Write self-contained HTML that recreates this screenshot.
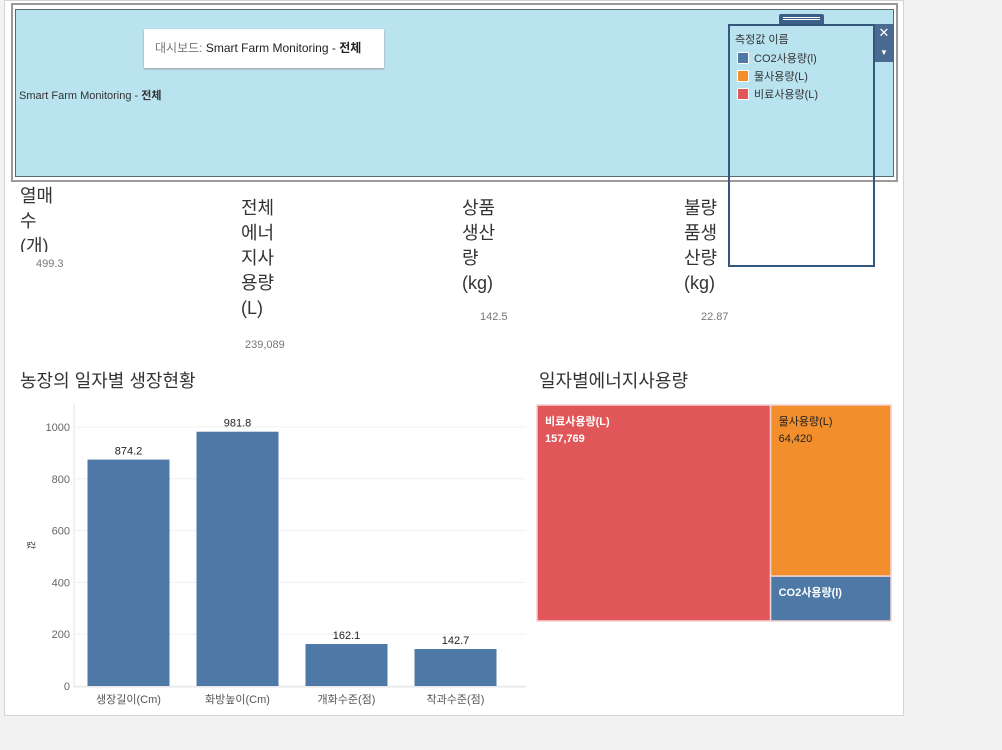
<!DOCTYPE html>
<html><head><meta charset="utf-8">
<style>
*{margin:0;padding:0;box-sizing:border-box}
body{width:1002px;height:750px;background:#f2f2f2;position:relative;overflow:hidden;font-family:"Liberation Sans","Noto Sans CJK KR",sans-serif}
.abs{position:absolute}
.kpi{position:absolute;font-size:18px;line-height:25px;color:#333;white-space:nowrap}
.kv{position:absolute;font-size:11px;color:#777}
</style></head><body>
<div class="abs" style="left:4px;top:0;width:900px;height:716px;background:#fff;border:1px solid #d4d4d4"></div>
<div class="abs" style="left:11px;top:3px;width:887px;height:179px;border:2px solid #9a9a9a;background:#fff"></div>
<div class="abs" style="left:15px;top:9px;width:879px;height:168px;background:#bae3f0;border:1px solid #5a6a72"></div>
<div class="abs" style="left:144px;top:29px;width:240px;height:39px;background:#fff;box-shadow:0 1px 2px #999;font-size:12px;line-height:39px;padding-left:11px;color:#222"><span style="color:#777">대시보드:</span> Smart Farm Monitoring - <b>전체</b></div>
<div class="abs" style="left:19px;top:87px;font-size:11px;color:#333">Smart Farm Monitoring - <b>전체</b></div>
<div class="abs" style="left:779px;top:14px;width:45px;height:11px;background:#3d5f87;border-radius:2px 2px 0 0"><div style="margin:3px 4px 0;height:3px;border-top:1px solid #fff;border-bottom:1px solid #fff"></div></div>
<div class="abs" style="left:728px;top:24px;width:147px;height:243px;border:2px solid #34577f"></div>
<div class="abs" style="left:875px;top:24px;width:18px;height:38px;background:#4a6a92;color:#fff;font-size:13px;text-align:center;line-height:18px">✕<br><span style="font-size:8px">▼</span></div>
<div class="abs" style="left:735px;top:31px;font-size:11px;color:#333">측정값 이름</div>
<div class="abs" style="left:737px;top:50px;font-size:11px;color:#333"><span style="display:inline-block;width:12px;height:12px;background:#4e79a7;border:1px solid #fff;vertical-align:-2px;margin-right:5px"></span>CO2사용량(l)</div>
<div class="abs" style="left:737px;top:68px;font-size:11px;color:#333"><span style="display:inline-block;width:12px;height:12px;background:#f28e2b;border:1px solid #fff;vertical-align:-2px;margin-right:5px"></span>물사용량(L)</div>
<div class="abs" style="left:737px;top:86px;font-size:11px;color:#333"><span style="display:inline-block;width:12px;height:12px;background:#e15759;border:1px solid #fff;vertical-align:-2px;margin-right:5px"></span>비료사용량(L)</div>

<div class="kpi" style="left:20px;top:184px;height:68px;overflow:hidden">열매<br>수<br>(개)</div>
<div class="kv" style="left:36px;top:258px">499.3</div>
<div class="kpi" style="left:241px;top:196px">전체<br>에너<br>지사<br>용량<br>(L)</div>
<div class="kv" style="left:245px;top:339px">239,089</div>
<div class="kpi" style="left:462px;top:196px">상품<br>생산<br>량<br>(kg)</div>
<div class="kv" style="left:480px;top:311px">142.5</div>
<div class="kpi" style="left:684px;top:196px">불량<br>품생<br>산량<br>(kg)</div>
<div class="kv" style="left:701px;top:311px">22.87</div>

<div class="abs" style="left:20px;top:367px;font-size:18px;color:#333">농장의 일자별 생장현황</div>
<div class="abs" style="left:539px;top:367px;font-size:18px;color:#333">일자별에너지사용량</div>

<svg class="abs" style="left:0;top:0" width="1002" height="750">
<g id="bars"></g><g id="tree"></g>
</svg>
<script>
const categories=["생장길이(Cm)","화방높이(Cm)","개화수준(점)","착과수준(점)"];
const values=[874.2,981.8,162.1,142.7];
const ticks=[0,200,400,600,800,1000];
const treeNames=["비료사용량(L)","물사용량(L)","CO2사용량(l)"];
const treeValues=[157769,64420,16900];
const NS="http://www.w3.org/2000/svg";
function mk(p,t,a,txt){const e=document.createElementNS(NS,t);for(const k in a)e.setAttribute(k,a[k]);if(txt!=null)e.textContent=txt;p.appendChild(e);return e;}
const g=document.getElementById('bars');
const x0=74,x1=526,y0=686,yTop=403,ppu=0.259;
const y=v=>y0-v*ppu;
const band=(x1-x0-16)/categories.length;
const xc=i=>x0+band*(i+0.5);
mk(g,'line',{x1:x0,y1:yTop,x2:x0,y2:y0,stroke:'#e6e6e6'});
ticks.forEach(t=>{
 const gl=mk(g,'line',{x1:x0,x2:x1,y1:y(t),y2:y(t),stroke:'#f0f0f0'});
 
 
 const tl=mk(g,'text',{x:70,y:y(t)+4,'text-anchor':'end','font-size':11,fill:'#666','font-family':'Liberation Sans'},t);
 
 
});
const yt=mk(g,'text',{x:28,y:545,'font-size':9,fill:'#333',transform:'rotate(90 28 545)','text-anchor':'middle'},'값');


mk(g,'line',{x1:x0,x2:x1,y1:y0+1,y2:y0+1,stroke:'#e6e6e6'});
values.forEach((v,i)=>{
 const b=mk(g,'rect',{x:xc(i)-41,y:y(v),width:82,height:y0-y(v),fill:'#4e79a7'});
 
 
 const l=mk(g,'text',{x:xc(i),y:y(v)-5,'text-anchor':'middle','font-size':11,fill:'#222'},v.toFixed(1));
 
 
 const c=mk(g,'text',{x:xc(i),y:703,'text-anchor':'middle','font-size':11,fill:'#555'},categories[i]);
 
 
});
const t=document.getElementById('tree');
const TX=537,TY=405,TW=354,TH=216;
const total=treeValues.reduce((a,b)=>a+b,0);
const w0=TW*treeValues[0]/total;
const rest=treeValues[1]+treeValues[2];
const h1=TH*treeValues[1]/rest;
const rects=[[TX,TY,w0,TH],[TX+w0,TY,TW-w0,h1],[TX+w0,TY+h1,TW-w0,TH-h1]];
const cols=['#e15759','#f28e2b','#4e79a7'];
const tcol=['#fff','#222','#fff'];
rects.forEach((r,i)=>{
 const e=mk(t,'rect',{x:r[0],y:r[1],width:r[2],height:r[3],fill:cols[i],stroke:'#f2d2d2','stroke-width':1.5});
 
 
 const n=mk(t,'text',{x:r[0]+8,y:r[1]+20,'font-size':11,'font-weight':(i==1?'normal':'bold'),fill:tcol[i]},treeNames[i]);
 
 
 if(i<2){const v=mk(t,'text',{x:r[0]+8,y:r[1]+37,'font-size':11,'font-weight':(i==1?'normal':'bold'),fill:tcol[i]},treeValues[i].toLocaleString('en-US'));
 
 }
});
</script>
</body></html>
